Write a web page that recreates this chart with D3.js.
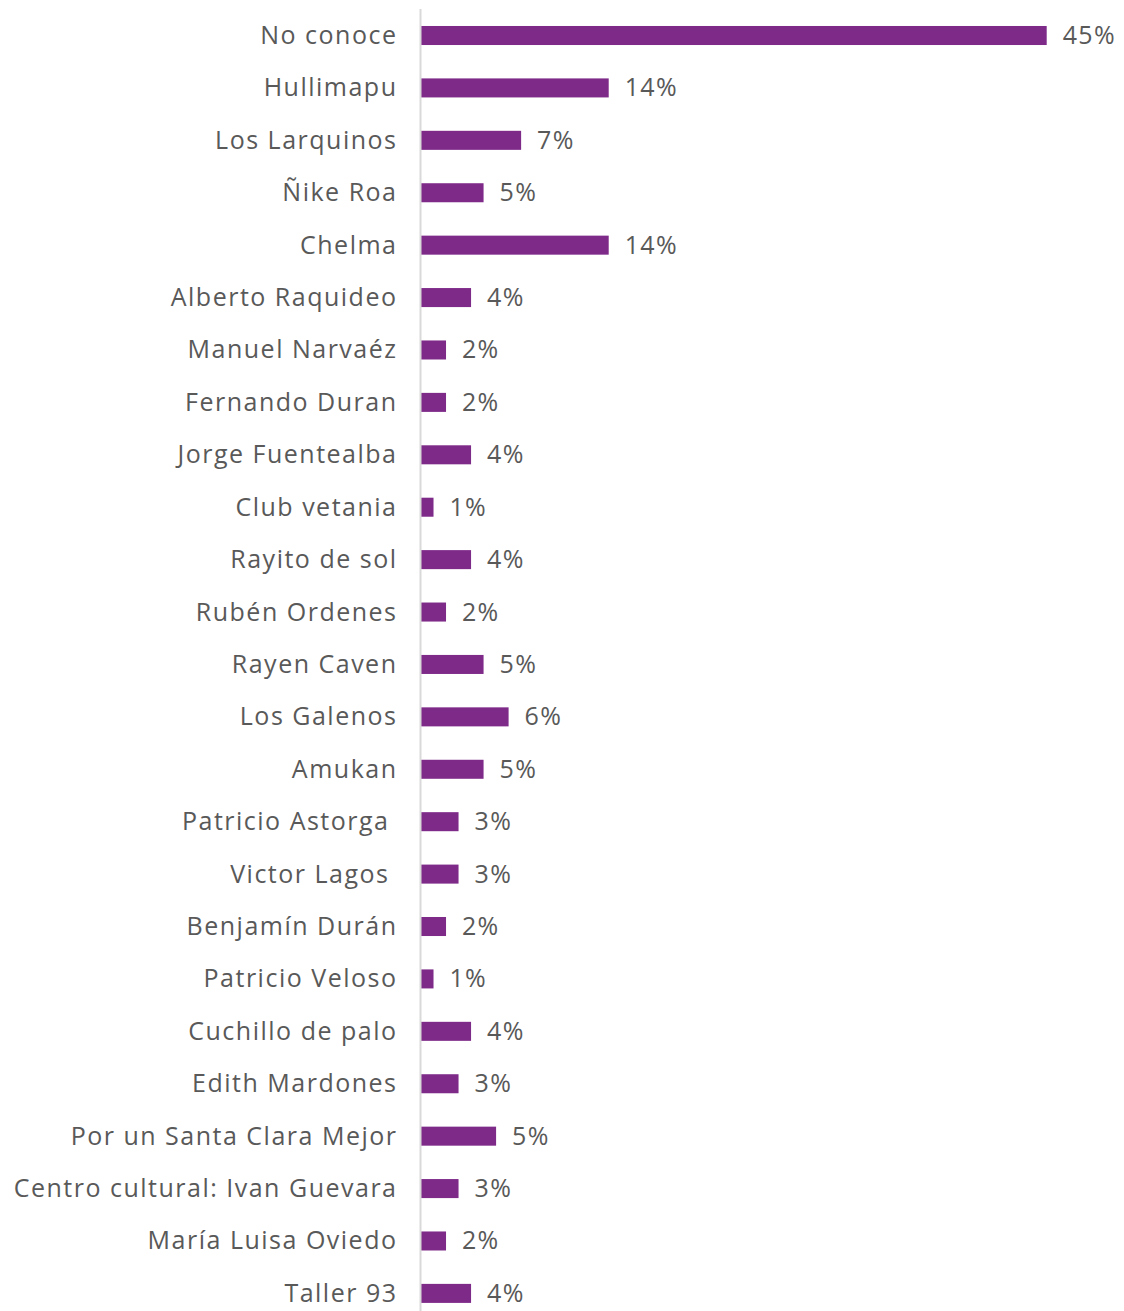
<!DOCTYPE html>
<html lang="es">
<head>
  <meta charset="UTF-8">
  <title>Organizaciones conocidas</title>
  <script src="https://d3js.org/d3.v7.min.js"></script>
  <style>
    body { margin: 0; background: #fff; }
    svg text {
      font-family: "Open Sans", sans-serif;
      fill: #595959;
      white-space: pre;
    }
  </style>
</head>
<body>
<div id="chart"></div>
<script>
  // categories top to bottom (some originals carry a trailing space)
  const categories = [
    "No conoce", "Hullimapu", "Los Larquinos", "Ñike Roa", "Chelma",
    "Alberto Raquideo", "Manuel Narvaéz", "Fernando Duran", "Jorge Fuentealba",
    "Club vetania", "Rayito de sol", "Rubén Ordenes", "Rayen Caven", "Los Galenos",
    "Amukan", "Patricio Astorga ", "Victor Lagos ", "Benjamín Durán",
    "Patricio Veloso", "Cuchillo de palo", "Edith Mardones",
    "Por un Santa Clara Mejor", "Centro cultural: Ivan Guevara",
    "María Luisa Oviedo", "Taller 93"
  ];

  // bar values (%)
  const values = [
    45.0, 13.5, 7.2, 4.5, 13.5,
    3.6, 1.8, 1.8, 3.6,
    0.9, 3.6, 1.8, 4.5, 6.3,
    4.5, 2.7, 2.7, 1.8,
    0.9, 3.6, 2.7,
    5.4, 2.7,
    1.8, 3.6
  ];

  // labels as printed
  const valueLabels = [
    "45%", "14%", "7%", "5%", "14%",
    "4%", "2%", "2%", "4%",
    "1%", "4%", "2%", "5%", "6%",
    "5%", "3%", "3%", "2%",
    "1%", "4%", "3%",
    "5%", "3%",
    "2%", "4%"
  ];

  const data = categories.map((c, i) => ({ name: c, value: values[i], label: valueLabels[i] }));

  const W = 1124, H = 1311;
  const axisX = 421;
  const catSpacing = 1.5;

  const svg = d3.select("#chart").append("svg")
    .attr("width", W)
    .attr("height", H);

  const x = d3.scaleLinear()
    .domain([0, 45])
    .range([axisX, 1046.7]);

  const y = d3.scaleBand()
    .domain(categories)
    .range([9.3, 1319.6])
    .paddingInner(0.637)
    .paddingOuter(0.3185);

  // bars
  svg.selectAll(".bar")
    .data(data)
    .enter().append("rect")
    .attr("class", "bar")
    .attr("x", x(0))
    .attr("y", d => y(d.name))
    .attr("width", d => x(d.value) - x(0))
    .attr("height", y.bandwidth())
    .attr("fill", "#7E2A89");

  // vertical axis line
  svg.append("line")
    .attr("x1", axisX - 0.5).attr("x2", axisX - 0.5)
    .attr("y1", 9).attr("y2", H)
    .attr("stroke", "#d9d9d9")
    .attr("stroke-width", 2);

  // category labels
  svg.selectAll(".cat")
    .data(data)
    .enter().append("text")
    .attr("class", "cat")
    .attr("x", axisX - 25 + catSpacing)
    .attr("y", d => y(d.name) + y.bandwidth() / 2 + 8.5)
    .attr("text-anchor", "end")
    .attr("font-size", "25px")
    .attr("letter-spacing", catSpacing + "px")
    .text(d => d.name);

  // value labels
  svg.selectAll(".val")
    .data(data)
    .enter().append("text")
    .attr("class", "val")
    .attr("x", d => x(d.value) + 16)
    .attr("y", d => y(d.name) + y.bandwidth() / 2 + 8.5)
    .attr("text-anchor", "start")
    .attr("font-size", "25px")
    .attr("letter-spacing", "1.3px")
    .text(d => d.label);
</script>
</body>
</html>
